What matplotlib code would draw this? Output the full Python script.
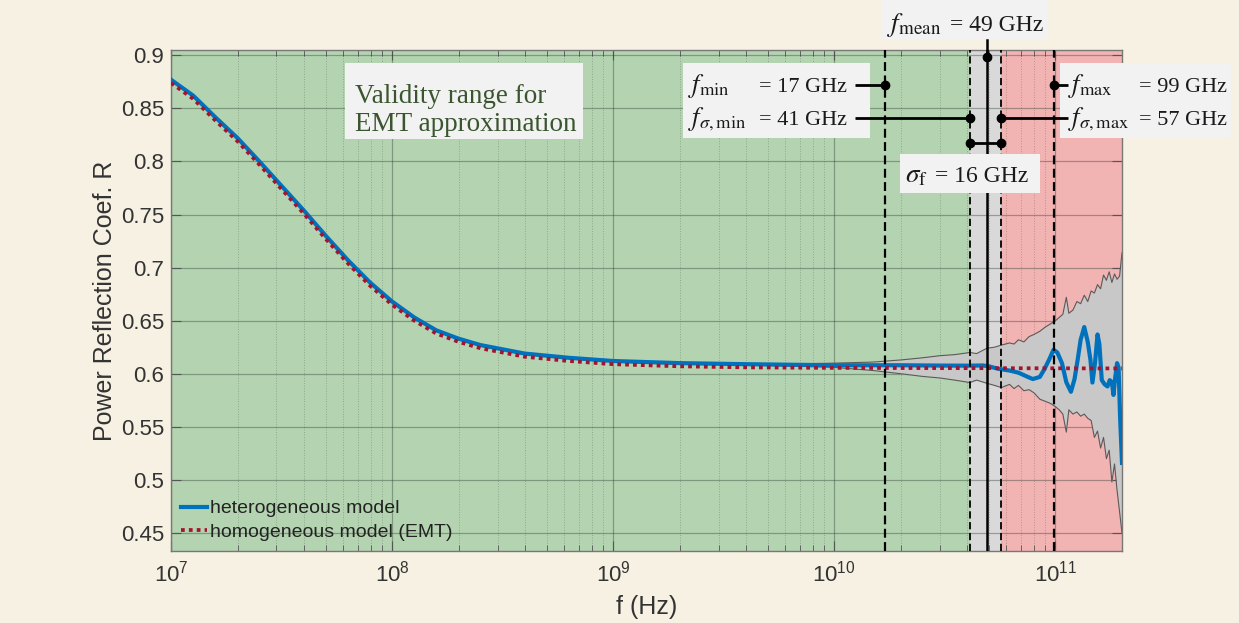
import math
import matplotlib
matplotlib.use("Agg")
import matplotlib.pyplot as plt
from matplotlib import ticker
from matplotlib.patches import Rectangle

W, H = 1239, 623

# heterogeneous model (mean over realisations)
het_freq = [1.00e7, 1.26e7, 1.58e7, 2.00e7, 2.51e7, 3.16e7, 3.98e7, 5.01e7, 6.31e7, 7.94e7,
            1.00e8, 1.26e8, 1.58e8, 2.00e8, 2.51e8, 3.98e8, 6.31e8, 1.00e9, 2.00e9, 4.00e9,
            1.00e10, 2.00e10, 3.00e10, 4.10e10, 4.70e10, 5.00e10, 5.50e10, 6.20e10, 6.80e10,
            7.50e10, 7.90e10, 8.50e10, 8.90e10, 9.40e10, 9.80e10, 1.02e11, 1.07e11, 1.12e11,
            1.175e11, 1.22e11, 1.26e11, 1.30e11, 1.35e11, 1.40e11, 1.44e11, 1.47e11, 1.51e11,
            1.55e11, 1.58e11, 1.62e11, 1.67e11, 1.72e11, 1.76e11, 1.80e11, 1.83e11, 1.86e11,
            1.90e11, 1.93e11, 1.96e11, 2.00e11]
het_R = [0.877, 0.862, 0.842, 0.822, 0.800, 0.777, 0.754, 0.730, 0.707, 0.686,
         0.668, 0.653, 0.641, 0.633, 0.627, 0.619, 0.615, 0.612, 0.610, 0.609,
         0.608, 0.608, 0.6077, 0.6076, 0.6078, 0.607, 0.6047, 0.603, 0.601,
         0.597, 0.595, 0.597, 0.604, 0.614, 0.6226, 0.620, 0.610, 0.592,
         0.583, 0.595, 0.613, 0.632, 0.644, 0.630, 0.613, 0.5917, 0.610,
         0.637, 0.628, 0.594, 0.590, 0.588, 0.594, 0.592, 0.580, 0.595,
         0.610, 0.606, 0.560, 0.516]

# homogeneous model (EMT)
emt_freq = [1.00e7, 1.26e7, 1.58e7, 2.00e7, 2.51e7, 3.16e7, 3.98e7, 5.01e7, 6.31e7, 7.94e7,
            1.00e8, 1.26e8, 1.58e8, 2.00e8, 2.51e8, 3.98e8, 6.31e8, 1.00e9, 2.00e9, 4.00e9,
            1.00e10, 2.00e11]
emt_R = [0.874, 0.859, 0.839, 0.819, 0.797, 0.774, 0.751, 0.727, 0.704, 0.683,
         0.665, 0.650, 0.638, 0.630, 0.624, 0.616, 0.612, 0.609, 0.607, 0.606,
         0.6055, 0.605]

# spread of the heterogeneous realisations
env_freq = [5.0e9, 1.0e10, 1.5e10, 2.0e10, 2.5e10, 3.0e10, 3.5e10, 4.1e10, 4.4e10, 4.9e10,
            5.3e10, 5.7e10, 6.2e10, 6.5e10, 6.8e10, 7.2e10, 7.6e10, 8.0e10, 8.5e10, 9.0e10,
            9.5e10, 1.0e11, 1.04e11, 1.08e11, 1.12e11, 1.15e11, 1.2e11, 1.25e11, 1.3e11,
            1.35e11, 1.4e11, 1.45e11, 1.5e11, 1.55e11, 1.6e11, 1.65e11, 1.7e11, 1.75e11,
            1.8e11, 1.85e11, 1.9e11, 1.95e11, 2.0e11]
env_upper = [0.6088, 0.610, 0.611, 0.613, 0.615, 0.617, 0.618, 0.620, 0.619, 0.624,
             0.625, 0.627, 0.629, 0.628, 0.632, 0.630, 0.635, 0.637, 0.640, 0.644,
             0.647, 0.650, 0.653, 0.656, 0.672, 0.657, 0.660, 0.668, 0.666,
             0.674, 0.668, 0.678, 0.676, 0.684, 0.680, 0.693, 0.688, 0.696,
             0.686, 0.694, 0.689, 0.692, 0.714]
env_lower = [0.6078, 0.606, 0.603, 0.600, 0.5975, 0.596, 0.594, 0.5917, 0.594, 0.591,
             0.589, 0.587, 0.590, 0.586, 0.589, 0.584, 0.585, 0.582, 0.576, 0.574,
             0.572, 0.569, 0.566, 0.562, 0.545, 0.566, 0.562, 0.564, 0.560,
             0.562, 0.558, 0.556, 0.540, 0.546, 0.530, 0.540, 0.520, 0.528,
             0.498, 0.515, 0.490, 0.470, 0.450]

# frequency statistics (Hz)
f_min = 17e9
f_mean = 49e9
f_max = 99e9
f_sig_min = 41e9
f_sig_max = 57e9
sigma_f = 16e9

y_ticks = [0.45, 0.5, 0.55, 0.6, 0.65, 0.7, 0.75, 0.8, 0.85, 0.9]
x_lim = (1e7, 2e11)
y_lim = (0.433, 0.905)

BG = "#F6F1E2"
GREEN = "#B4D4B1"
BAND = "#D9D9D9"
RED = "#F2B3B3"
BOX = "#F2F2F2"

plt.rcParams["font.family"] = ["Liberation Sans", "DejaVu Sans"]

fig = plt.figure(figsize=(W / 100, H / 100), dpi=100, facecolor=BG)
ax = fig.add_axes([171 / W, 1 - 551 / H, (1122 - 171) / W, (551 - 50) / H])
ax.set_xscale("log")
ax.set_xlim(*x_lim)
ax.set_ylim(*y_lim)

# validity regions
ax.axvspan(x_lim[0], f_sig_min, color=GREEN, zorder=0.1, lw=0)
ax.axvspan(f_sig_min, f_sig_max, color=BAND, zorder=0.1, lw=0)
ax.axvspan(f_sig_max, x_lim[1], color=RED, zorder=0.1, lw=0)

ax.set_axisbelow(True)
ax.grid(True, which="major", color="#2f3f2f", alpha=0.4, lw=0.9)
ax.grid(True, which="minor", axis="x", color="#2f3f2f", alpha=0.3, lw=0.7, ls=":")

ax.fill_between(env_freq, env_lower, env_upper, color="#C8C8C8", lw=0, zorder=1)
ax.plot(env_freq, env_upper, color="#5a5a5a", lw=0.8, zorder=1.1)
ax.plot(env_freq, env_lower, color="#5a5a5a", lw=0.8, zorder=1.1)

ax.plot(het_freq, het_R, color="#0072BD", lw=3.0, zorder=3, solid_joinstyle="round",
        label="heterogeneous model")
ax.plot(emt_freq, emt_R, color="#A2142F", lw=2.7, ls=(0, (1, 1.1)), zorder=3.2,
        label="homogeneous model (EMT)")

# frequency markers
dash = (0, (4, 2))
ax.axvline(f_min, color="k", lw=1.6, ls=dash, zorder=4)
ax.axvline(f_max, color="k", lw=1.6, ls=dash, zorder=4)
ax.axvline(f_sig_min, color="k", lw=1.3, ls=dash, zorder=4)
ax.axvline(f_sig_max, color="k", lw=1.3, ls=dash, zorder=4)
ax.axvline(f_mean, color="k", lw=1.8, zorder=4)

ax.set_yticks(y_ticks)
ax.yaxis.set_major_formatter(ticker.FormatStrFormatter("%g"))
ax.xaxis.set_major_locator(ticker.LogLocator(base=10, numticks=10))
ax.xaxis.set_minor_locator(ticker.LogLocator(base=10, subs=range(2, 10), numticks=20))
ax.xaxis.set_minor_formatter(ticker.NullFormatter())
ax.xaxis.set_major_formatter(ticker.FuncFormatter(
    lambda v, p: r"$\mathregular{10^{%d}}$" % round(math.log10(v))))
ax.tick_params(which="both", direction="in", top=True, right=True, colors="#555555",
               labelcolor="#333333")
ax.tick_params(which="major", length=7, width=0.8, labelsize=16)
ax.tick_params(which="minor", length=4, width=0.6)
ax.tick_params(axis="y", pad=5)
ax.tick_params(axis="x", pad=7)
for s in ax.spines.values():
    s.set_color("#777777")
    s.set_linewidth(1.0)

ax.set_xlabel("f (Hz)", fontsize=18, color="#333333", labelpad=6)
ax.set_ylabel("Power Reflection Coef. R", fontsize=18, color="#333333", labelpad=3)

leg = ax.legend(loc="lower left", frameon=False, fontsize=14, handlelength=1.35,
                handletextpad=0.15, labelspacing=0.32, borderaxespad=0.3, borderpad=0.2)
for t in leg.get_texts():
    t.set_color("#222222")


# annotation helpers (image pixel coordinates, origin top-left)
def fx(px):
    return px / W


def fy(py):
    return 1 - py / H


def to_data(px, py):
    return ax.transData.inverted().transform((px, H - py))


def add_box(x0, y0, x1, y1):
    ax.add_patch(Rectangle((fx(x0), fy(y1)), (x1 - x0) / W, (y1 - y0) / H,
                           transform=fig.transFigure, fc=BOX, ec="none",
                           zorder=5, clip_on=False))


def add_text(px, py, s, size, **kw):
    ax.text(fx(px), fy(py), s, transform=fig.transFigure, fontsize=size,
            family="Liberation Serif", math_fontfamily="stix", color="#1a1a1a",
            va="baseline", zorder=8, clip_on=False, **kw)


def connector(xs, y_px, dots):
    y = to_data(0, y_px)[1]
    ax.plot(xs, [y, y], color="k", lw=2, zorder=6, clip_on=False, solid_capstyle="butt")
    ax.plot(dots, [y] * len(dots), "o", color="k", ms=6, zorder=7, clip_on=False)


add_box(345, 63, 583, 139)
ax.text(fx(355), fy(103), "Validity range for", transform=fig.transFigure, fontsize=19.5,
        family="Liberation Serif", color="#3B5530", va="baseline", zorder=8)
ax.text(fx(355), fy(131), "EMT approximation", transform=fig.transFigure, fontsize=19.5,
        family="Liberation Serif", color="#3B5530", va="baseline", zorder=8)

ghz = lambda f: "= %d GHz" % round(f / 1e9)

add_box(683, 63, 870, 138)
add_text(688, 92, r"$f_{\mathrm{min}}$", 19)
add_text(759, 92, ghz(f_min), 16)
add_text(688, 125, r"$f_{\sigma,\mathrm{min}}$", 19)
add_text(759, 125, ghz(f_sig_min), 16)
x_left_end = to_data(855, 0)[0]
connector([x_left_end, f_min], 85, [f_min])
connector([x_left_end, f_sig_min], 118, [f_sig_min])

add_box(1060, 63, 1231, 138)
add_text(1068, 92, r"$f_{\mathrm{max}}$", 19)
add_text(1139, 92, ghz(f_max), 16)
add_text(1068, 125, r"$f_{\sigma,\mathrm{max}}$", 19)
add_text(1139, 125, ghz(f_sig_max), 16)
x_right_end = to_data(1068, 0)[0]
connector([f_max, x_right_end], 85, [f_max])
connector([f_sig_max, x_right_end], 118, [f_sig_max])

add_box(881, 0, 1048, 40)
add_text(887, 31, r"$f_{\mathrm{mean}}$", 19.5)
add_text(950, 31, ghz(f_mean), 17)
y_top, y_dot = to_data(0, 40)[1], to_data(0, 57)[1]
ax.plot([f_mean, f_mean], [y_top, y_dot], color="k", lw=1.8, zorder=6, clip_on=False)
ax.plot([f_mean], [y_dot], "o", color="k", ms=6, zorder=7, clip_on=False)

connector([f_sig_min, f_sig_max], 143, [f_sig_min, f_sig_max])
add_box(900, 154, 1040, 193)
add_text(905, 182, r"$\sigma_{\mathrm{f}}$", 19.5)
add_text(935, 182, ghz(sigma_f), 17)

fig.savefig("out.png", dpi=100, facecolor=BG)
